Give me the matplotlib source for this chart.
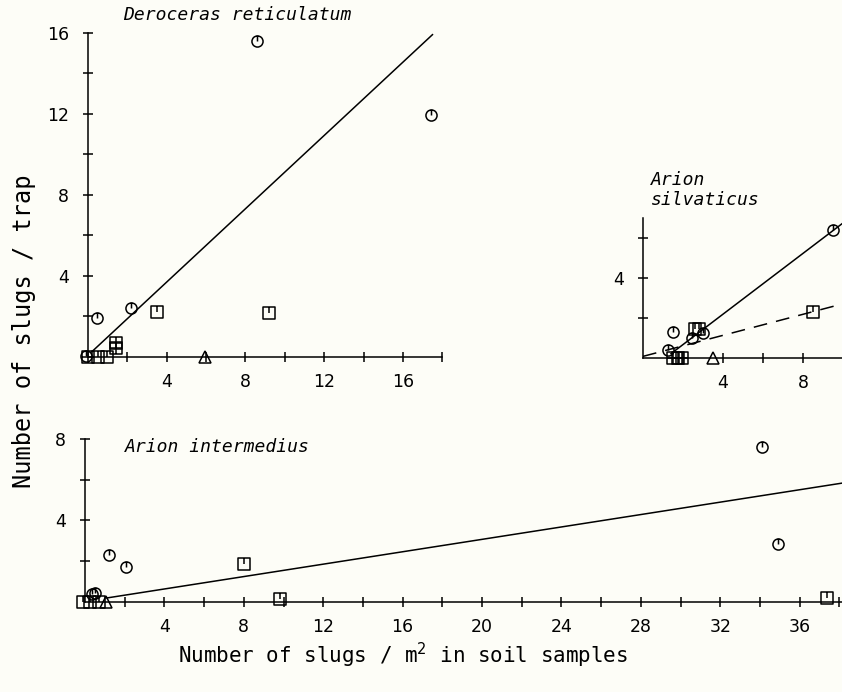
import numpy as np
import matplotlib.pyplot as plt
from matplotlib.path import Path

# ---- data ----
# Deroceras reticulatum
dr_circ_x = [8.6, 17.4, 0.45, 2.2, -0.1]
dr_circ_y = [15.6, 11.95, 1.9, 2.4, 0.05]
dr_sq_x = [3.5, 9.2, 0.5, 0.95]
dr_sq_y = [2.2, 2.15, 0.0, 0.0]
dr_sqx_x = [1.4, 1.4, 0.0]
dr_sqx_y = [0.7, 0.45, 0.0]
dr_tri_x = [5.95]
dr_tri_y = [0.0]
dr_fit = (0.905, 0.07)        # slope, intercept
dr_fit_range = [0.2, 17.5]

# Arion silvaticus
as_circ_x = [9.5, 1.48, 1.27, 3.0, 2.45]
as_circ_y = [6.4, 1.32, 0.4, 1.25, 1.0]
as_sq_x = [8.5, 2.6, 2.8]
as_sq_y = [2.3, 1.45, 1.45]
as_sqx_x = [1.5, 1.75, 1.95]
as_sqx_y = [0.0, 0.0, 0.0]
as_tri_x = [3.5]
as_tri_y = [0.0]
as_fit = (0.76, -0.85)
as_fit_range = [1.4, 12]
as_fit2 = (0.263, 0.08)
as_fit2_range = [0.0, 12]

# Arion intermedius
ai_circ_x = [1.2, 2.05, 34.1, 34.9, 0.5, 0.35]
ai_circ_y = [2.3, 1.7, 7.6, 2.85, 0.45, 0.4]
ai_sq_x = [8.0, 9.8, 37.4, -0.1, 0.25, 0.7]
ai_sq_y = [1.85, 0.15, 0.2, 0.0, 0.0, 0.0]
ai_tri_x = [1.05]
ai_tri_y = [0.0]
ai_fit = (0.152, 0.03)
ai_fit_range = [1.1, 40]

BG = '#fdfdf7'
MONO = 'DejaVu Sans Mono'

# custom plotter-style markers: circle / square with a tick from the top
circ = Path.unit_circle()
tick = Path([(0, 1), (0, 0)], [Path.MOVETO, Path.LINETO])
circ_tick = Path.make_compound_path(circ, tick)
sq = Path([(-1, -1), (1, -1), (1, 1), (-1, 1), (-1, -1)],
          [Path.MOVETO, Path.LINETO, Path.LINETO, Path.LINETO, Path.CLOSEPOLY])
sq_tick = Path.make_compound_path(sq, tick)
cross = Path([(0, 1), (0, -1), (-1, 0), (1, 0)],
             [Path.MOVETO, Path.LINETO, Path.MOVETO, Path.LINETO])
sq_cross = Path.make_compound_path(sq, cross)

mk = dict(ls='none', mfc='none', mec='black', mew=1.1, ms=8, clip_on=False)


def style_axes(ax, xmax, ymax, xticks, yticks, xlab_max):
    ax.set_facecolor('none')
    for s in ['top', 'right']:
        ax.spines[s].set_visible(False)
    ax.spines['left'].set_position(('data', 0))
    ax.spines['bottom'].set_position(('data', 0))
    ax.spines['left'].set_bounds(0, ymax)
    ax.spines['bottom'].set_bounds(0, xmax)
    for s in ['left', 'bottom']:
        ax.spines[s].set_linewidth(1.1)
    ax.set_xticks(xticks)
    ax.set_xticklabels([str(v) if v % 4 == 0 and v <= xlab_max else ''
                        for v in xticks])
    ax.set_yticks(yticks)
    ax.set_yticklabels([str(v) if v % 4 == 0 else '' for v in yticks])
    ax.tick_params(direction='inout', length=7, width=1.1, labelsize=12.5,
                   colors='black')
    ax.tick_params(axis='x', pad=8)
    ax.tick_params(axis='y', pad=10)


def draw_fit(ax, fit, xr, **kw):
    x = np.array(xr, dtype=float)
    ax.plot(x, fit[0] * x + fit[1], color='black', lw=1.1, clip_on=False, **kw)


fig = plt.figure(figsize=(8.42, 6.92), dpi=100, facecolor=BG)

# --- Deroceras reticulatum ---
ax1 = fig.add_axes([0.0811, 0.4552, 0.4676, 0.5267])
ax1.set_xlim(-1, 19)
ax1.set_ylim(-1, 17)
style_axes(ax1, 18, 16, list(range(2, 19, 2)), list(range(2, 17, 2)), 16)
draw_fit(ax1, dr_fit, dr_fit_range)
ax1.plot(dr_circ_x, dr_circ_y, marker=circ_tick, **mk)
ax1.plot(dr_sq_x, dr_sq_y, marker=sq_tick, **mk)
ax1.plot(dr_sqx_x, dr_sqx_y, marker=sq_cross, **mk)
ax1.plot(dr_tri_x, dr_tri_y, marker='^', **mk)

# --- Arion silvaticus (panel runs off the right edge) ---
ax2 = fig.add_axes([0.7399, 0.4538, 0.3088, 0.2601])
ax2.set_xlim(-1, 12)
ax2.set_ylim(-1, 8)
style_axes(ax2, 12, 7, list(range(2, 13, 2)), [2, 4, 6], 8)
draw_fit(ax2, as_fit, as_fit_range)
draw_fit(ax2, as_fit2, as_fit2_range, dashes=(9, 6))
ax2.plot(as_circ_x, as_circ_y, marker=circ_tick, **mk)
ax2.plot(as_sq_x, as_sq_y, marker=sq_tick, **mk)
ax2.plot(as_sqx_x, as_sqx_y, marker=sq_cross, **mk)
ax2.plot(as_tri_x, as_tri_y, marker='^', **mk)

# --- Arion intermedius ---
ax3 = fig.add_axes([0.0774, 0.1006, 0.9666, 0.2948])
ax3.set_xlim(-1, 40)
ax3.set_ylim(-1, 9)
style_axes(ax3, 40, 8, list(range(2, 41, 2)), [2, 4, 6, 8], 36)
draw_fit(ax3, ai_fit, ai_fit_range)
ax3.plot(ai_circ_x, ai_circ_y, marker=circ_tick, **mk)
ax3.plot(ai_sq_x, ai_sq_y, marker=sq_tick, **mk)
ax3.plot(ai_tri_x, ai_tri_y, marker='^', **mk)

# species names
fig.text(123 / 842, 1 - 15 / 692, 'Deroceras reticulatum', family=MONO,
         style='italic', fontsize=13, va='center', ha='left')
fig.text(651 / 842, 1 - 190 / 692, 'Arion\nsilvaticus', family=MONO,
         style='italic', fontsize=13, va='center', ha='left', linespacing=1.1)
fig.text(125 / 842, 1 - 447 / 692, 'Arion intermedius', family=MONO,
         style='italic', fontsize=13, va='center', ha='left')

# axis titles
fig.text(403 / 842, 1 - 655 / 692, r'Number of slugs / m$^2$ in soil samples',
         family=MONO, fontsize=15, ha='center', va='center')
fig.text(24 / 842, 1 - 331 / 692, 'Number of slugs / trap', family=MONO,
         fontsize=17, rotation=90, ha='center', va='center')

fig.savefig('out.png', dpi=100, facecolor=BG)
